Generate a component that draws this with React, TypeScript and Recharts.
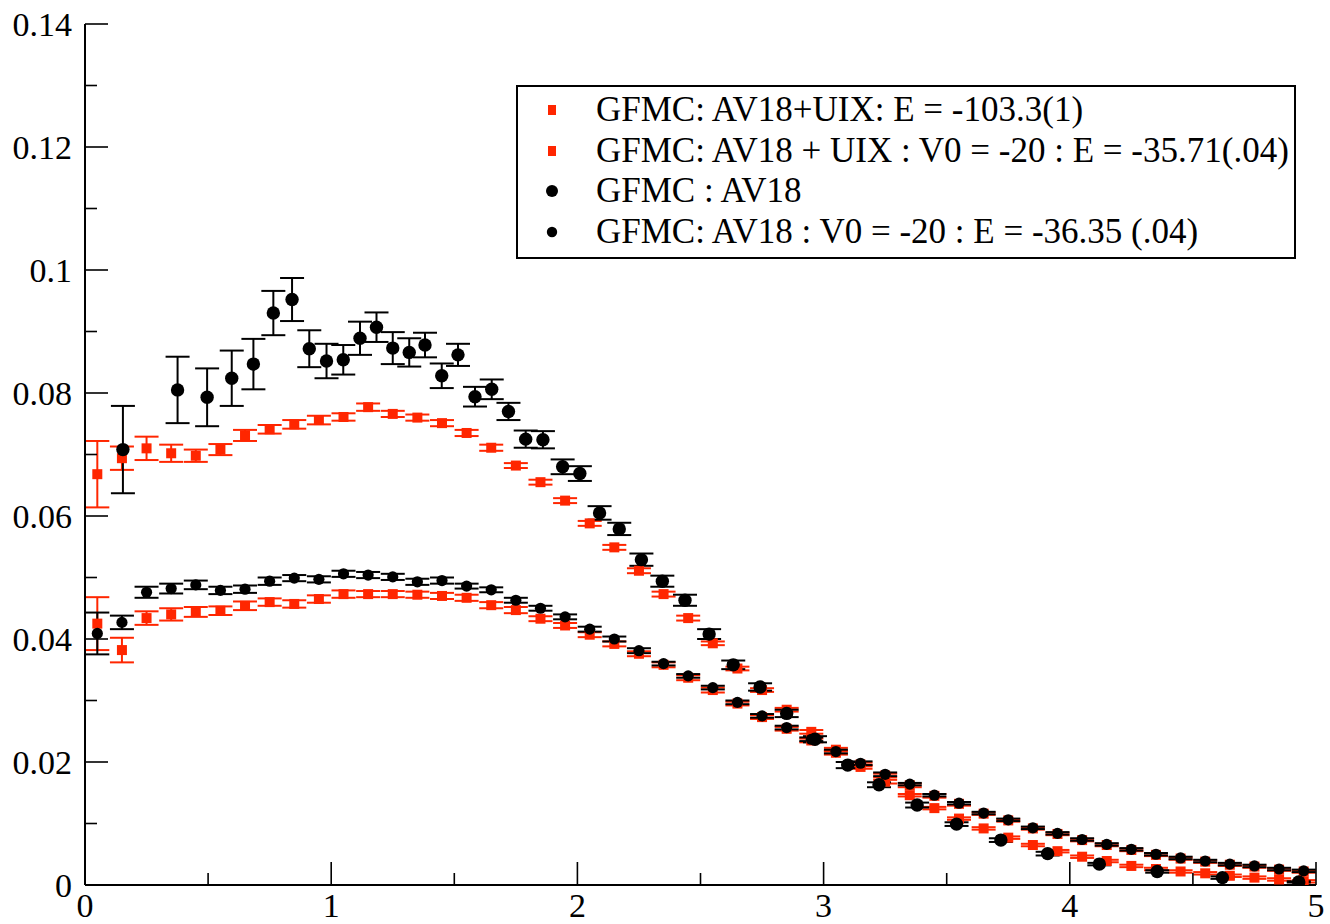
import { ScatterChart, Scatter, XAxis, YAxis, ErrorBar, Legend } from 'recharts';

// =====================================================
// GFMC density comparison - AV18 / AV18+UIX, with and without V0 = -20
// xmgrace-like frame: inward ticks on all four sides
// =====================================================

const FONT = '"Liberation Serif", "Times New Roman", serif';
const RED = '#ff2600';
const BLACK = '#000000';

// --- axis ticks ---
const xMajorTicks = [0, 1, 2, 3, 4, 5];
const xMinorTicks = [0.5, 1.5, 2.5, 3.5, 4.5];
const yMajorTicks = [0, 0.02, 0.04, 0.06, 0.08, 0.1, 0.12, 0.14];
const yMinorTicks = [0.01, 0.03, 0.05, 0.07, 0.09, 0.11, 0.13];
const xTickLabels = ['0', '1', '2', '3', '4', '5'];
const yTickLabels = ['0', '0.02', '0.04', '0.06', '0.08', '0.1', '0.12', '0.14'];

// --- legend labels ---
const seriesNames = [
  'GFMC: AV18+UIX: E = -103.3(1)',
  'GFMC: AV18 + UIX : V0 = -20 : E = -35.71(.04)',
  'GFMC : AV18',
  'GFMC: AV18 : V0 = -20 : E = -36.35 (.04)',
];

// shared x grid of the three regular series (0.05, 0.15, ... 4.95)
const gridX = [
  0.05, 0.15, 0.25, 0.35, 0.45, 0.55, 0.65, 0.75, 0.85, 0.95,
  1.05, 1.15, 1.25, 1.35, 1.45, 1.55, 1.65, 1.75, 1.85, 1.95,
  2.05, 2.15, 2.25, 2.35, 2.45, 2.55, 2.65, 2.75, 2.85, 2.95,
  3.05, 3.15, 3.25, 3.35, 3.45, 3.55, 3.65, 3.75, 3.85, 3.95,
  4.05, 4.15, 4.25, 4.35, 4.45, 4.55, 4.65, 4.75, 4.85, 4.95,
];

// AV18+UIX (red squares, upper hump)
const uixY = [
  0.0668, 0.0694, 0.0710, 0.0702, 0.0698, 0.0708, 0.0731, 0.0741, 0.0749, 0.0756,
  0.0761, 0.0777, 0.0766, 0.0760, 0.0751, 0.0735, 0.0711, 0.0682, 0.0655, 0.0625,
  0.0588, 0.0549, 0.0511, 0.0473, 0.0434, 0.0393, 0.0352, 0.0317, 0.0285, 0.0249,
  0.0220, 0.0192, 0.0168, 0.0146, 0.0125, 0.0108, 0.0092, 0.0077, 0.0065, 0.0055,
  0.0046, 0.0039, 0.0031, 0.0026, 0.0022, 0.0019, 0.0015, 0.0012, 0.0009, 0.0006,
];
const uixErr = [
  0.0054, 0.0019, 0.0019, 0.0014, 0.0010, 0.0009, 0.0009, 0.0007, 0.0007, 0.0007,
  0.0006, 0.0006, 0.0005, 0.0005, 0.0005, 0.0005, 0.0005, 0.0004, 0.0004, 0.0004,
  0.0004, 0.0004, 0.0004, 0.0004, 0.0004, 0.0003, 0.0003, 0.0003, 0.0003, 0.0003,
  0.0003, 0.0003, 0.0003, 0.0002, 0.0002, 0.0002, 0.0002, 0.0002, 0.0002, 0.0002,
  0.0002, 0.0002, 0.0002, 0.0002, 0.0002, 0.0002, 0.0002, 0.0002, 0.0002, 0.0002,
];

// AV18+UIX, V0 = -20 (red squares, lower)
const uixV0Y = [
  0.0425, 0.0382, 0.0434, 0.0440, 0.0444, 0.0446, 0.0454, 0.0460, 0.0457, 0.0465,
  0.0473, 0.0473, 0.0473, 0.0472, 0.0470, 0.0467, 0.0455, 0.0447, 0.0433, 0.0422,
  0.0407, 0.0392, 0.0376, 0.0358, 0.0337, 0.0317, 0.0295, 0.0273, 0.0254, 0.0235,
  0.0215, 0.0196, 0.0178, 0.0162, 0.0145, 0.0132, 0.0116, 0.0105, 0.0092, 0.0083,
  0.0073, 0.0065, 0.0057, 0.0049, 0.0043, 0.0038, 0.0033, 0.0030, 0.0025, 0.0022,
];
const uixV0Err = [
  0.0043, 0.0020, 0.0011, 0.0010, 0.0008, 0.0007, 0.0007, 0.0006, 0.0006, 0.0006,
  0.0006, 0.0005, 0.0005, 0.0005, 0.0005, 0.0005, 0.0005, 0.0005, 0.0004, 0.0004,
  0.0004, 0.0004, 0.0004, 0.0004, 0.0004, 0.0004, 0.0003, 0.0003, 0.0003, 0.0003,
  0.0003, 0.0003, 0.0003, 0.0003, 0.0003, 0.0003, 0.0002, 0.0002, 0.0002, 0.0002,
  0.0002, 0.0002, 0.0002, 0.0002, 0.0002, 0.0002, 0.0002, 0.0002, 0.0002, 0.0002,
];

// AV18 (big black dots, own x grid)
const av18X = [
  0.154, 0.376, 0.496, 0.596, 0.684, 0.765, 0.841, 0.911, 0.981, 1.049,
  1.117, 1.184, 1.250, 1.317, 1.381, 1.449, 1.515, 1.584, 1.652, 1.720,
  1.790, 1.860, 1.940, 2.010, 2.090, 2.170, 2.260, 2.345, 2.437, 2.535,
  2.633, 2.742, 2.850, 2.965, 3.098, 3.225, 3.380, 3.540, 3.720, 3.910,
  4.120, 4.355, 4.620, 4.930,
];
const av18Y = [
  0.0708, 0.0805, 0.0793, 0.0824, 0.0847, 0.0930, 0.0952, 0.0872, 0.0852, 0.0854,
  0.0889, 0.0907, 0.0873, 0.0866, 0.0878, 0.0828, 0.0862, 0.0794, 0.0806, 0.0770,
  0.0725, 0.0724, 0.0680, 0.0669, 0.0605, 0.0579, 0.0529, 0.0494, 0.0463, 0.0408,
  0.0358, 0.0322, 0.0279, 0.0237, 0.0195, 0.0163, 0.0130, 0.0099, 0.0073, 0.0051,
  0.0034, 0.0022, 0.0012, 0.0005,
];
const av18Err = [
  0.0071, 0.0054, 0.0047, 0.0045, 0.0041, 0.0036, 0.0035, 0.0030, 0.0028, 0.0024,
  0.0027, 0.0024, 0.0026, 0.0023, 0.0020, 0.0020, 0.0018, 0.0016, 0.0016, 0.0014,
  0.0014, 0.0014, 0.0012, 0.0012, 0.0011, 0.0010, 0.0010, 0.0009, 0.0009, 0.0008,
  0.0007, 0.0006, 0.0006, 0.0005, 0.0005, 0.0004, 0.0004, 0.0003, 0.0003, 0.0003,
  0.0002, 0.0002, 0.0002, 0.0001,
];

// AV18, V0 = -20 (small black dots)
const av18V0Y = [
  0.0409, 0.0427, 0.0476, 0.0482, 0.0488, 0.0479, 0.0481, 0.0494, 0.0499, 0.0497,
  0.0506, 0.0504, 0.0501, 0.0493, 0.0495, 0.0486, 0.0480, 0.0463, 0.0450, 0.0436,
  0.0416, 0.0400, 0.0381, 0.0360, 0.0340, 0.0321, 0.0297, 0.0275, 0.0256, 0.0237,
  0.0217, 0.0198, 0.0180, 0.0164, 0.0146, 0.0133, 0.0117, 0.0106, 0.0093, 0.0084,
  0.0074, 0.0066, 0.0058, 0.0050, 0.0044, 0.0039, 0.0034, 0.0031, 0.0026, 0.0023,
];
const av18V0Err = [
  0.0034, 0.0011, 0.0009, 0.0008, 0.0007, 0.0006, 0.0006, 0.0006, 0.0005, 0.0005,
  0.0005, 0.0005, 0.0005, 0.0005, 0.0005, 0.0004, 0.0004, 0.0004, 0.0004, 0.0004,
  0.0004, 0.0004, 0.0004, 0.0003, 0.0003, 0.0003, 0.0003, 0.0003, 0.0003, 0.0003,
  0.0003, 0.0003, 0.0003, 0.0002, 0.0002, 0.0002, 0.0002, 0.0002, 0.0002, 0.0002,
  0.0002, 0.0002, 0.0002, 0.0002, 0.0002, 0.0002, 0.0002, 0.0002, 0.0002, 0.0002,
];

const toPoints = (xs: number[], ys: number[], es: number[]) =>
  xs.map((x, i) => ({ x, y: ys[i], e: es[i] }));

const uixData = toPoints(gridX, uixY, uixErr);
const uixV0Data = toPoints(gridX, uixV0Y, uixV0Err);
const av18Data = toPoints(av18X, av18Y, av18Err);
const av18V0Data = toPoints(gridX, av18V0Y, av18V0Err);

const xTicks = [...xMajorTicks, ...xMinorTicks].sort((a, b) => a - b);
const yTicks = [...yMajorTicks, ...yMinorTicks].sort((a, b) => a - b);

const MAJOR = 23;
const MINOR = 12;
const TICK_STROKE = 1.6;

const labelFor = (v: number, majors: number[], labels: string[]) => {
  const i = majors.findIndex((m) => Math.abs(m - v) < 1e-9);
  return i >= 0 ? labels[i] : null;
};

// bottom axis: tick points up into the plot, label below
function BottomTick({ x, y, payload }: any) {
  const label = labelFor(payload.value, xMajorTicks, xTickLabels);
  return (
    <g>
      <line x1={x} x2={x} y1={y} y2={y - (label ? MAJOR : MINOR)} stroke={BLACK} strokeWidth={TICK_STROKE} />
      {label && (
        <text x={x} y={y + 32} textAnchor="middle" fontSize={34} fontFamily={FONT} fill={BLACK}>
          {label}
        </text>
      )}
    </g>
  );
}

function TopTick({ x, y, payload }: any) {
  const label = labelFor(payload.value, xMajorTicks, xTickLabels);
  return <line x1={x} x2={x} y1={y} y2={y + (label ? MAJOR : MINOR)} stroke={BLACK} strokeWidth={TICK_STROKE} />;
}

function LeftTick({ x, y, payload }: any) {
  const label = labelFor(payload.value, yMajorTicks, yTickLabels);
  return (
    <g>
      <line x1={x} x2={x + (label ? MAJOR : MINOR)} y1={y} y2={y} stroke={BLACK} strokeWidth={TICK_STROKE} />
      {label && (
        <text x={x - 13} y={y + 11.5} textAnchor="end" fontSize={34} fontFamily={FONT} fill={BLACK}>
          {label}
        </text>
      )}
    </g>
  );
}

function RightTick({ x, y, payload }: any) {
  const label = labelFor(payload.value, yMajorTicks, yTickLabels);
  return <line x1={x} x2={x - (label ? MAJOR : MINOR)} y1={y} y2={y} stroke={BLACK} strokeWidth={TICK_STROKE} />;
}

// markers
const RedSquare = (p: any) => <rect x={p.cx - 5} y={p.cy - 5} width={10} height={10} fill={RED} />;
const BigDot = (p: any) => <circle cx={p.cx} cy={p.cy} r={6.7} fill={BLACK} />;
const SmallDot = (p: any) => <circle cx={p.cx} cy={p.cy} r={5.6} fill={BLACK} />;

function LegendSymbol({ kind }: { kind: number }) {
  if (kind < 2) return <rect x={30} y={15} width={8} height={10} fill={RED} />;
  return <circle cx={34} cy={20} r={kind === 2 ? 6 : 5.2} fill={BLACK} />;
}

function LegendBox() {
  return (
    <div
      style={{
        boxSizing: 'border-box',
        width: 780,
        height: 174,
        border: '2px solid #000',
        background: '#fff',
        paddingTop: 3,
        fontFamily: FONT,
        fontSize: 35,
        color: '#000',
      }}
    >
      {seriesNames.map((name, i) => (
        <div key={name} style={{ display: 'flex', alignItems: 'center', height: 40.5, lineHeight: '40.5px' }}>
          <svg width={78} height={40} style={{ flex: 'none' }}>
            <LegendSymbol kind={i} />
          </svg>
          <span style={{ whiteSpace: 'nowrap' }}>{name}</span>
        </div>
      ))}
    </div>
  );
}

export default function App() {
  const frame = { stroke: BLACK, strokeWidth: 2 };
  return (
    <div style={{ position: 'absolute', left: 0, top: 0, width: 1330, height: 924, background: '#fff' }}>
      <ScatterChart width={1330} height={924} margin={{ top: 24, right: 14, bottom: 0, left: 0 }}>
        <XAxis
          xAxisId={0}
          type="number"
          dataKey="x"
          domain={[0, 5]}
          allowDataOverflow
          ticks={xTicks}
          interval={0}
          height={39}
          tickSize={0}
          tickMargin={0}
          tickLine={false}
          axisLine={frame}
          tick={<BottomTick />}
        />
        <XAxis
          xAxisId="top"
          orientation="top"
          type="number"
          domain={[0, 5]}
          allowDataOverflow
          ticks={xTicks}
          interval={0}
          height={0}
          tickSize={0}
          tickMargin={0}
          tickLine={false}
          axisLine={frame}
          tick={<TopTick />}
        />
        <YAxis
          yAxisId={0}
          type="number"
          dataKey="y"
          domain={[0, 0.14]}
          allowDataOverflow
          ticks={yTicks}
          interval={0}
          width={85}
          tickSize={0}
          tickMargin={0}
          tickLine={false}
          axisLine={frame}
          tick={<LeftTick />}
        />
        <YAxis
          yAxisId="right"
          orientation="right"
          type="number"
          domain={[0, 0.14]}
          allowDataOverflow
          ticks={yTicks}
          interval={0}
          width={0}
          tickSize={0}
          tickMargin={0}
          tickLine={false}
          axisLine={frame}
          tick={<RightTick />}
        />
        <Legend
          layout="vertical"
          verticalAlign="middle"
          align="center"
          wrapperStyle={{ left: 516, top: 85, width: 780, height: 174 }}
          content={() => <LegendBox />}
        />
        <Scatter name={seriesNames[0]} data={uixData} dataKey="y" shape={RedSquare} isAnimationActive={false}>
          <ErrorBar dataKey="e" direction="y" width={12} stroke={RED} strokeWidth={2} isAnimationActive={false} />
        </Scatter>
        <Scatter name={seriesNames[1]} data={uixV0Data} dataKey="y" shape={RedSquare} isAnimationActive={false}>
          <ErrorBar dataKey="e" direction="y" width={12} stroke={RED} strokeWidth={2} isAnimationActive={false} />
        </Scatter>
        <Scatter name={seriesNames[2]} data={av18Data} dataKey="y" shape={BigDot} isAnimationActive={false}>
          <ErrorBar dataKey="e" direction="y" width={12} stroke={BLACK} strokeWidth={2} isAnimationActive={false} />
        </Scatter>
        <Scatter name={seriesNames[3]} data={av18V0Data} dataKey="y" shape={SmallDot} isAnimationActive={false}>
          <ErrorBar dataKey="e" direction="y" width={12} stroke={BLACK} strokeWidth={2} isAnimationActive={false} />
        </Scatter>
      </ScatterChart>
    </div>
  );
}
